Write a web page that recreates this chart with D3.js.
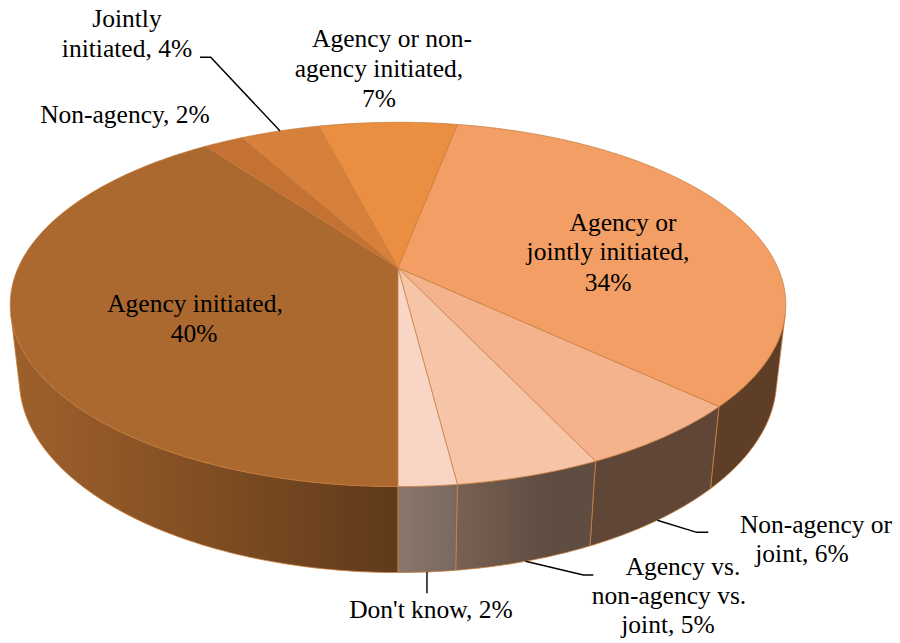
<!DOCTYPE html>
<html>
<head>
<meta charset="utf-8">
<script src="https://cdn.jsdelivr.net/npm/d3@7"></script>
<style>
  html, body { margin: 0; background: #fff; }
  svg { display: block; }
  .lbl { font-family: "Liberation Serif", "Times New Roman", Times, "DejaVu Serif", serif; font-size: 25.5px; fill: #000; }
</style>
</head>
<body>
<svg id="chart" width="900" height="643"></svg>
<script>
// ---- data (clockwise, starting at 6 o'clock) ----
const categories = [
  "Agency initiated",
  "Non-agency",
  "Jointly initiated",
  "Agency or non-agency initiated",
  "Agency or jointly initiated",
  "Non-agency or joint",
  "Agency vs. non-agency vs. joint",
  "Don't know"
];
const values = [40, 2, 4, 7, 34, 6, 5, 2];

// label text broken into lines; {v} is replaced by the slice value
const labelWraps = [
  ["Agency initiated,", "{v}%"],
  ["Non-agency, {v}%"],
  ["Jointly", "initiated, {v}%"],
  ["Agency or non-", "agency initiated,", "{v}%"],
  ["Agency or", "jointly initiated,", "{v}%"],
  ["Non-agency or", "joint, {v}%"],
  ["Agency vs.", "non-agency vs.", "joint, {v}%"],
  ["Don't know, {v}%"]
];

// ---- styling / layout ----
const topColors = ["#AB682F", "#C47234", "#D7803C", "#EA8E42", "#F29E64", "#F5B38D", "#F6C5A8", "#F8D5C4"];

// per-line text anchor points (x centre, baseline y)
const labelPos = [
  [[195, 312], [194, 342]],
  [[125, 123]],
  [[127, 27], [127, 57]],
  [[392, 47], [379, 77], [379, 107]],
  [[623, 231], [608, 260], [608, 291]],
  [[816, 533], [802, 562]],
  [[683, 575], [669, 604], [668, 633]],
  [[431, 618]]
];

// leader lines: where they leave the pie rim, then their bend/end points
const leaders = [
  null,
  null,
  { rim: "top",    pts: [[210.7, 57.3], [200, 57.3]] },
  null,
  null,
  { rim: "bottom", pts: [[696.7, 532.3], [708.3, 532.3]] },
  { rim: "bottom", pts: [[583.3, 575], [593.3, 575]] },
  { rim: "bottom", pts: [["same", 593.3]] }
];

// ---- perspective view of the disc ----
const view = {
  cx: 398, cy: 268,          // screen position of the pie centre
  f: 1687,                   // focal length (px)
  dist: 4.44,                // camera distance in pie radii
  tilt: 27.4 * Math.PI / 180,
  depth: 0.225               // thickness in pie radii
};
const sT = Math.sin(view.tilt), cT = Math.cos(view.tilt);

// theta: clockwise from the far side (d3.pie convention); r: radius fraction; y: 0 top, -depth bottom
function project(theta, r, y) {
  const x = r * Math.sin(theta), z = -r * Math.cos(theta);
  const v = z * sT - y * cT;
  const d = view.dist - z * cT - y * sT;
  return [view.cx + view.f * x / d, view.cy + view.f * v / d];
}

// side lighting: light comes from the front-left
function shade(theta) {
  const deg = ((theta * 180 / Math.PI) % 360 + 360) % 360;
  return 0.39 + 0.53 * Math.max(0, Math.cos((deg - 252) * Math.PI / 180));
}
function scaleColor(hex, k) {
  const c = d3.rgb(hex);
  return d3.rgb(c.r * k, c.g * k, c.b * k).formatHex();
}

const pie = d3.pie().sort(null).value(d => d).startAngle(Math.PI).endAngle(3 * Math.PI);
const arcs = pie(values);

const svg = d3.select("#chart");
const defs = svg.append("defs");
const gSide = svg.append("g");
const gTop = svg.append("g");
const gLead = svg.append("g");
const gText = svg.append("g");

// the outer wall faces the camera where cos(theta) < -1/(dist*cos(tilt))
const tv = Math.acos(-1 / (view.dist * cT));
const visible = [[tv, 2 * Math.PI - tv], [2 * Math.PI + tv, 4 * Math.PI - tv]];
const line = d3.line();

function rimPoints(a0, a1, r, y, step) {
  const n = Math.max(2, Math.ceil(Math.abs(a1 - a0) / step));
  return d3.range(n + 1).map(i => project(a0 + (a1 - a0) * i / n, r, y));
}

// outer walls
arcs.forEach((a, i) => {
  visible.forEach(([v0, v1], j) => {
    const t0 = Math.max(a.startAngle, v0), t1 = Math.min(a.endAngle, v1);
    if (t1 <= t0) return;
    const top = rimPoints(t0, t1, 1, 0, 0.01);
    const bot = rimPoints(t1, t0, 1, -view.depth, 0.01);
    const xs = top.map(p => p[0]);
    const x0 = d3.min(xs), x1 = d3.max(xs);
    const id = `wall-${i}-${j}`;
    const grad = defs.append("linearGradient")
      .attr("id", id).attr("gradientUnits", "userSpaceOnUse")
      .attr("x1", x0).attr("x2", x1).attr("y1", 0).attr("y2", 0);
    const ns = 12;
    const stops = d3.range(ns + 1).map(k => {
      const t = t0 + (t1 - t0) * k / ns;
      const px = project(t, 1, 0)[0];
      return { off: x1 > x0 ? (px - x0) / (x1 - x0) : 0, col: scaleColor(topColors[i], shade(t)) };
    }).sort((p, q) => p.off - q.off);
    grad.selectAll("stop").data(stops).join("stop")
      .attr("offset", d => d.off).attr("stop-color", d => d.col);
    gSide.append("path")
      .attr("d", line(top.concat(bot)) + "Z")
      .attr("fill", `url(#${id})`)
      .attr("stroke", "#C9823F")
      .attr("stroke-width", 0.8)
      .attr("stroke-linejoin", "round");
  });
});

// top faces
arcs.forEach((a, i) => {
  const pts = [project(0, 0, 0)].concat(rimPoints(a.startAngle, a.endAngle, 1, 0, 0.01));
  gTop.append("path")
    .attr("d", line(pts) + "Z")
    .attr("fill", topColors[i])
    .attr("stroke", "#C47A3A")
    .attr("stroke-width", 0.7)
    .attr("stroke-linejoin", "round");
});

// leader lines
arcs.forEach((a, i) => {
  const L = leaders[i];
  if (!L) return;
  const mid = (a.startAngle + a.endAngle) / 2;
  const start = project(mid, 1, L.rim === "top" ? 0 : -view.depth);
  const pts = [start].concat(L.pts.map(p => [p[0] === "same" ? start[0] : p[0], p[1]]));
  gLead.append("path")
    .attr("d", line(pts))
    .attr("fill", "none")
    .attr("stroke", "#000")
    .attr("stroke-width", 1.4);
});

// data labels
arcs.forEach((a, i) => {
  labelWraps[i].forEach((txt, k) => {
    const [x, y] = labelPos[i][k];
    gText.append("text")
      .attr("class", "lbl")
      .attr("x", x).attr("y", y)
      .attr("text-anchor", "middle")
      .text(txt.replace("{v}", values[i]));
  });
});
</script>
</body>
</html>
